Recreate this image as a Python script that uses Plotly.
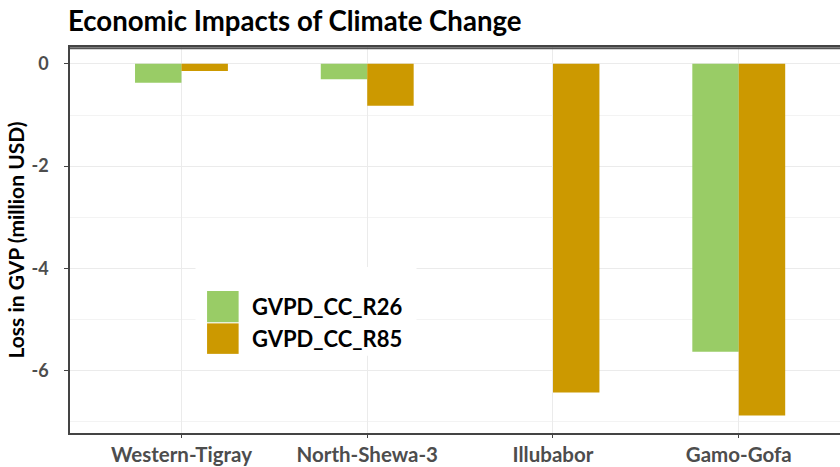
import plotly.graph_objects as go

regions = ["Western-Tigray", "North-Shewa-3", "Illubabor", "Gamo-Gofa"]
r26 = [-0.37, -0.30, 0.0, -5.63]
r85 = [-0.14, -0.82, -6.43, -6.88]
series_names = ["GVPD_CC_R26", "GVPD_CC_R85"]
colors = ["#99CC66", "#CC9900"]
y_ticks = [0, -2, -4, -6]

FONT = "Lato"

fig = go.Figure()
for name, vals, col in zip(series_names, [r26, r85], colors):
    fig.add_trace(go.Bar(x=regions, y=vals, name=name, marker_color=col,
                         marker_line_width=0, showlegend=False))

# panel top border (drawn in the plot's own coordinates, just inside the top edge)
shapes = [
    dict(type="line", xref="x domain", yref="y domain", x0=0, x1=1, y0=0.997, y1=0.997,
         line=dict(color="#555555", width=2), layer="above"),
    # manual legend (large keys as in reference)
    dict(type="rect", xref="paper", yref="paper", x0=0.163, x1=0.45, y0=0.20, y1=0.43,
         fillcolor="white", line_width=0, layer="above"),
]
key_y = [(0.287, 0.368), (0.205, 0.284)]
for (y0, y1), col in zip(key_y, colors):
    shapes.append(dict(type="rect", xref="paper", yref="paper", x0=0.178, x1=0.219,
                       y0=y0, y1=y1, fillcolor=col, line_width=0, layer="above"))
annotations = []
for (y0, y1), name in zip(key_y, series_names):
    annotations.append(dict(text=f"<b>{name}</b>", xref="paper", yref="paper",
                            x=0.234, y=(y0 + y1) / 2, xanchor="left", yanchor="middle",
                            showarrow=False, font=dict(family=FONT, size=22, color="black")))

fig.update_layout(
    width=840, height=467,
    margin=dict(l=70, r=0, t=47, b=34),
    paper_bgcolor="white", plot_bgcolor="white",
    barmode="group", bargap=0.5, bargroupgap=0,
    title=dict(text="<b>Economic Impacts of Climate Change</b>", x=68/840, xanchor="left",
               y=1 - 21/467, yanchor="middle", font=dict(family=FONT, size=27.6, color="black")),
    shapes=shapes, annotations=annotations,
    xaxis=dict(range=[-0.6, 3.545], showgrid=True, gridcolor="#EBEBEB", gridwidth=1,
               showline=True, linecolor="#444444", linewidth=1.5, mirror=True,
               ticks="outside", ticklen=3, tickcolor="#444444", automargin=False,
               tickfont=dict(family=FONT, size=20.5, color="#4D4D4D"), zeroline=False),
    yaxis=dict(range=[-7.22, 0.33], tickvals=y_ticks, ticktext=[f"<b>{v}</b>" for v in y_ticks],
               showgrid=True, gridcolor="#EBEBEB", gridwidth=1,
               minor=dict(dtick=1, showgrid=True, gridcolor="#F3F3F3", gridwidth=1),
               showline=True, linecolor="#444444", linewidth=1.5,
               ticks="outside", ticklen=4, tickcolor="#444444", automargin=False,
               ticklabelstandoff=12,
               tickfont=dict(family=FONT, size=18, color="#4D4D4D"), zeroline=False,
               title=dict(text="<b>Loss in GVP (million USD)</b>", standoff=1,
                          font=dict(family=FONT, size=21, color="black"))),
)
fig.update_xaxes(tickvals=regions, ticktext=[f"<b>{r}</b>" for r in regions])

fig.write_html("out.html", config={"displayModeBar": False},
               post_script="document.body.style.margin='0';document.body.style.overflow='hidden';")
